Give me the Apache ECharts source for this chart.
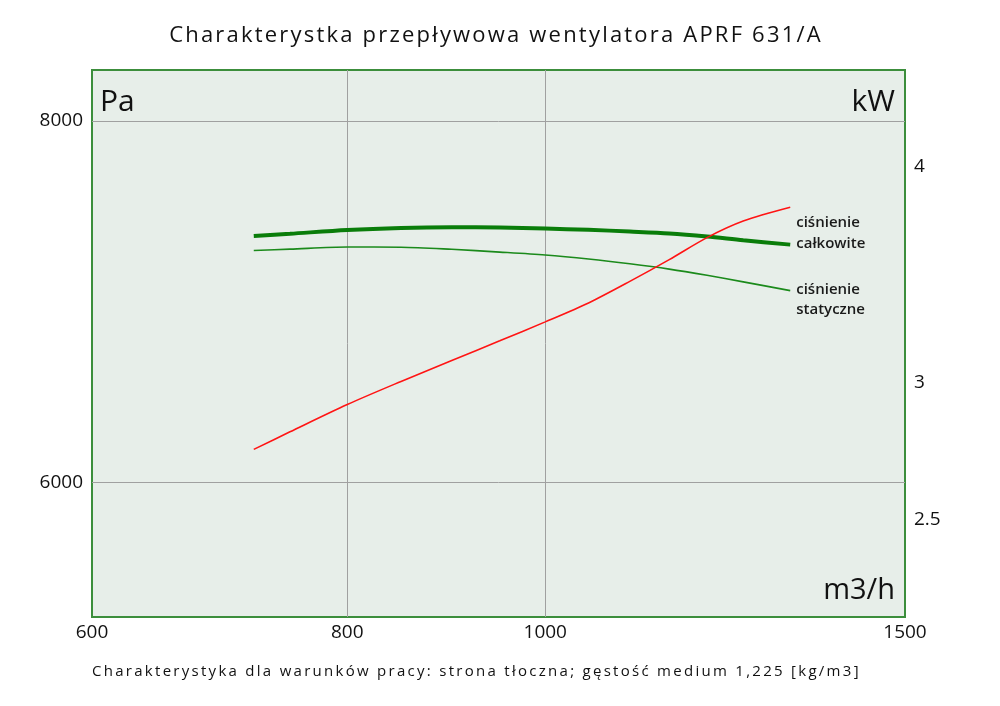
<!DOCTYPE html>
<html>
<head>
<meta charset="utf-8">
<script src="https://cdn.jsdelivr.net/npm/echarts@6/dist/echarts.min.js"></script>
<style>
  html, body { margin: 0; padding: 0; background: #fff; }
  #wrap { position: relative; width: 1000px; height: 706px; }
  #chart { width: 1000px; height: 706px; }
  .caption {
    position: absolute;
    font-family: 'Open Sans', 'Noto Sans', sans-serif;
    color: #111;
    white-space: nowrap;
  }
  #title { left: -4px; width: 1000px; top: 18px; line-height: 30px; font-size: 22px; letter-spacing: 2.2px; text-align: center; }
  #subtitle { left: 92px; top: 659px; line-height: 22px; font-size: 15px; letter-spacing: 2.28px; }
</style>
</head>
<body>
<div id="wrap">
  <div id="chart"></div>
  <div id="title" class="caption"></div>
  <div id="subtitle" class="caption"></div>
</div>
<script>
// flow in m3/h, pressures in Pa, power in kW (all axes are logarithmic)
const flow = [720, 750, 800, 850, 900, 950, 1000, 1050, 1100, 1150, 1200, 1250, 1318];
const totalPressure = [7300, 7313, 7335, 7347, 7351, 7349, 7343, 7336, 7326, 7315, 7297, 7275, 7250];
const staticPressure = [7216, 7224, 7236, 7235, 7223, 7207, 7190, 7167, 7140, 7110, 7075, 7038, 6989];
const power = [2.745, 2.810, 2.914, 3.005, 3.090, 3.172, 3.253, 3.336, 3.433, 3.534, 3.639, 3.720, 3.789];

const flowTicks = [600, 800, 1000, 1500];
const flowGridLines = [800, 1000];
const pressureTicks = [6000, 8000];
const powerTicks = [2.5, 3, 4];

const flowRange = [600, 1500];
const pressureRange = [5389, 8332];
const powerRange = [2.196, 4.549];

const titleText = 'Charakterystka przepływowa wentylatora APRF 631/A';
const subtitleText = 'Charakterystyka dla warunków pracy: strona tłoczna; gęstość medium 1,225 [kg/m3]';

// title and footnote are letter-spaced, so they go in plain html on top of the canvas
document.getElementById('title').textContent = titleText;
document.getElementById('subtitle').textContent = subtitleText;

const FONT = "'Open Sans', 'Noto Sans', sans-serif";
const lg = Math.log10;
const unlog = v => String(+Math.pow(10, v).toFixed(2));

const chart = echarts.init(document.getElementById('chart'));

const labelStyle = {
  fontFamily: FONT,
  fontSize: 19,
  color: '#111'
};

const option = {
  backgroundColor: '#fff',
  animation: false,
  grid: {
    left: 92,
    right: 95,
    top: 70,
    bottom: 89,
    show: true,
    backgroundColor: '#e7eee9',
    borderColor: '#3c8e3c',
    borderWidth: 2
  },
  xAxis: {
    type: 'value',
    min: lg(flowRange[0]),
    max: lg(flowRange[1]),
    axisLine: { show: false },
    axisTick: { show: false, customValues: flowGridLines.map(lg) },
    axisLabel: Object.assign({
      customValues: flowTicks.map(lg),
      formatter: unlog,
      margin: 6
    }, labelStyle),
    splitLine: { show: true, lineStyle: { color: '#a0a0a0', width: 1 } }
  },
  yAxis: [
    {
      type: 'value',
      min: lg(pressureRange[0]),
      max: lg(pressureRange[1]),
      axisLine: { show: false },
      axisTick: { show: false, customValues: pressureTicks.map(lg) },
      axisLabel: Object.assign({
        customValues: pressureTicks.map(lg),
        formatter: unlog,
        margin: 9
      }, labelStyle),
      splitLine: { show: true, lineStyle: { color: '#a0a0a0', width: 1 } }
    },
    {
      type: 'value',
      position: 'right',
      min: lg(powerRange[0]),
      max: lg(powerRange[1]),
      axisLine: { show: false },
      axisTick: { show: false, customValues: powerTicks.map(lg) },
      axisLabel: Object.assign({
        customValues: powerTicks.map(lg),
        formatter: unlog,
        margin: 9
      }, labelStyle),
      splitLine: { show: false }
    }
  ],
  graphic: [
    { type: 'text', left: 100, top: 87, style: { text: 'Pa', font: '30px ' + FONT, fill: '#111' } },
    { type: 'text', right: 105, top: 87, style: { text: 'kW', font: '30px ' + FONT, fill: '#111' } },
    { type: 'text', right: 105, top: 576, style: { text: 'm3/h', font: '29px ' + FONT, fill: '#111' } }
  ],
  series: [
    {
      name: 'ciśnienie statyczne',
      type: 'line',
      yAxisIndex: 0,
      data: flow.map((f, i) => [lg(f), lg(staticPressure[i])]),
      smooth: 0.3,
      showSymbol: false,
      lineStyle: { color: '#1b8a1b', width: 1.6 },
      endLabel: {
        show: true,
        formatter: 'ciśnienie\nstatyczne',
        distance: 6,
        offset: [0, 9],
        lineHeight: 20,
        fontFamily: FONT,
        fontSize: 15,
        fontWeight: 600,
        color: '#1a1a1a'
      }
    },
    {
      name: 'ciśnienie całkowite',
      type: 'line',
      yAxisIndex: 0,
      data: flow.map((f, i) => [lg(f), lg(totalPressure[i])]),
      smooth: 0.3,
      showSymbol: false,
      lineStyle: { color: '#0a7d0a', width: 4 },
      endLabel: {
        show: true,
        formatter: 'ciśnienie\ncałkowite',
        distance: 6,
        offset: [0, -11],
        lineHeight: 21,
        fontFamily: FONT,
        fontSize: 15,
        fontWeight: 600,
        color: '#1a1a1a'
      }
    },
    {
      name: 'moc',
      type: 'line',
      yAxisIndex: 1,
      data: flow.map((f, i) => [lg(f), lg(power[i])]),
      smooth: 0.3,
      showSymbol: false,
      lineStyle: { color: '#ff1414', width: 1.6 }
    }
  ]
};

chart.setOption(option);
window.addEventListener('resize', () => chart.resize());
</script>
</body>
</html>
